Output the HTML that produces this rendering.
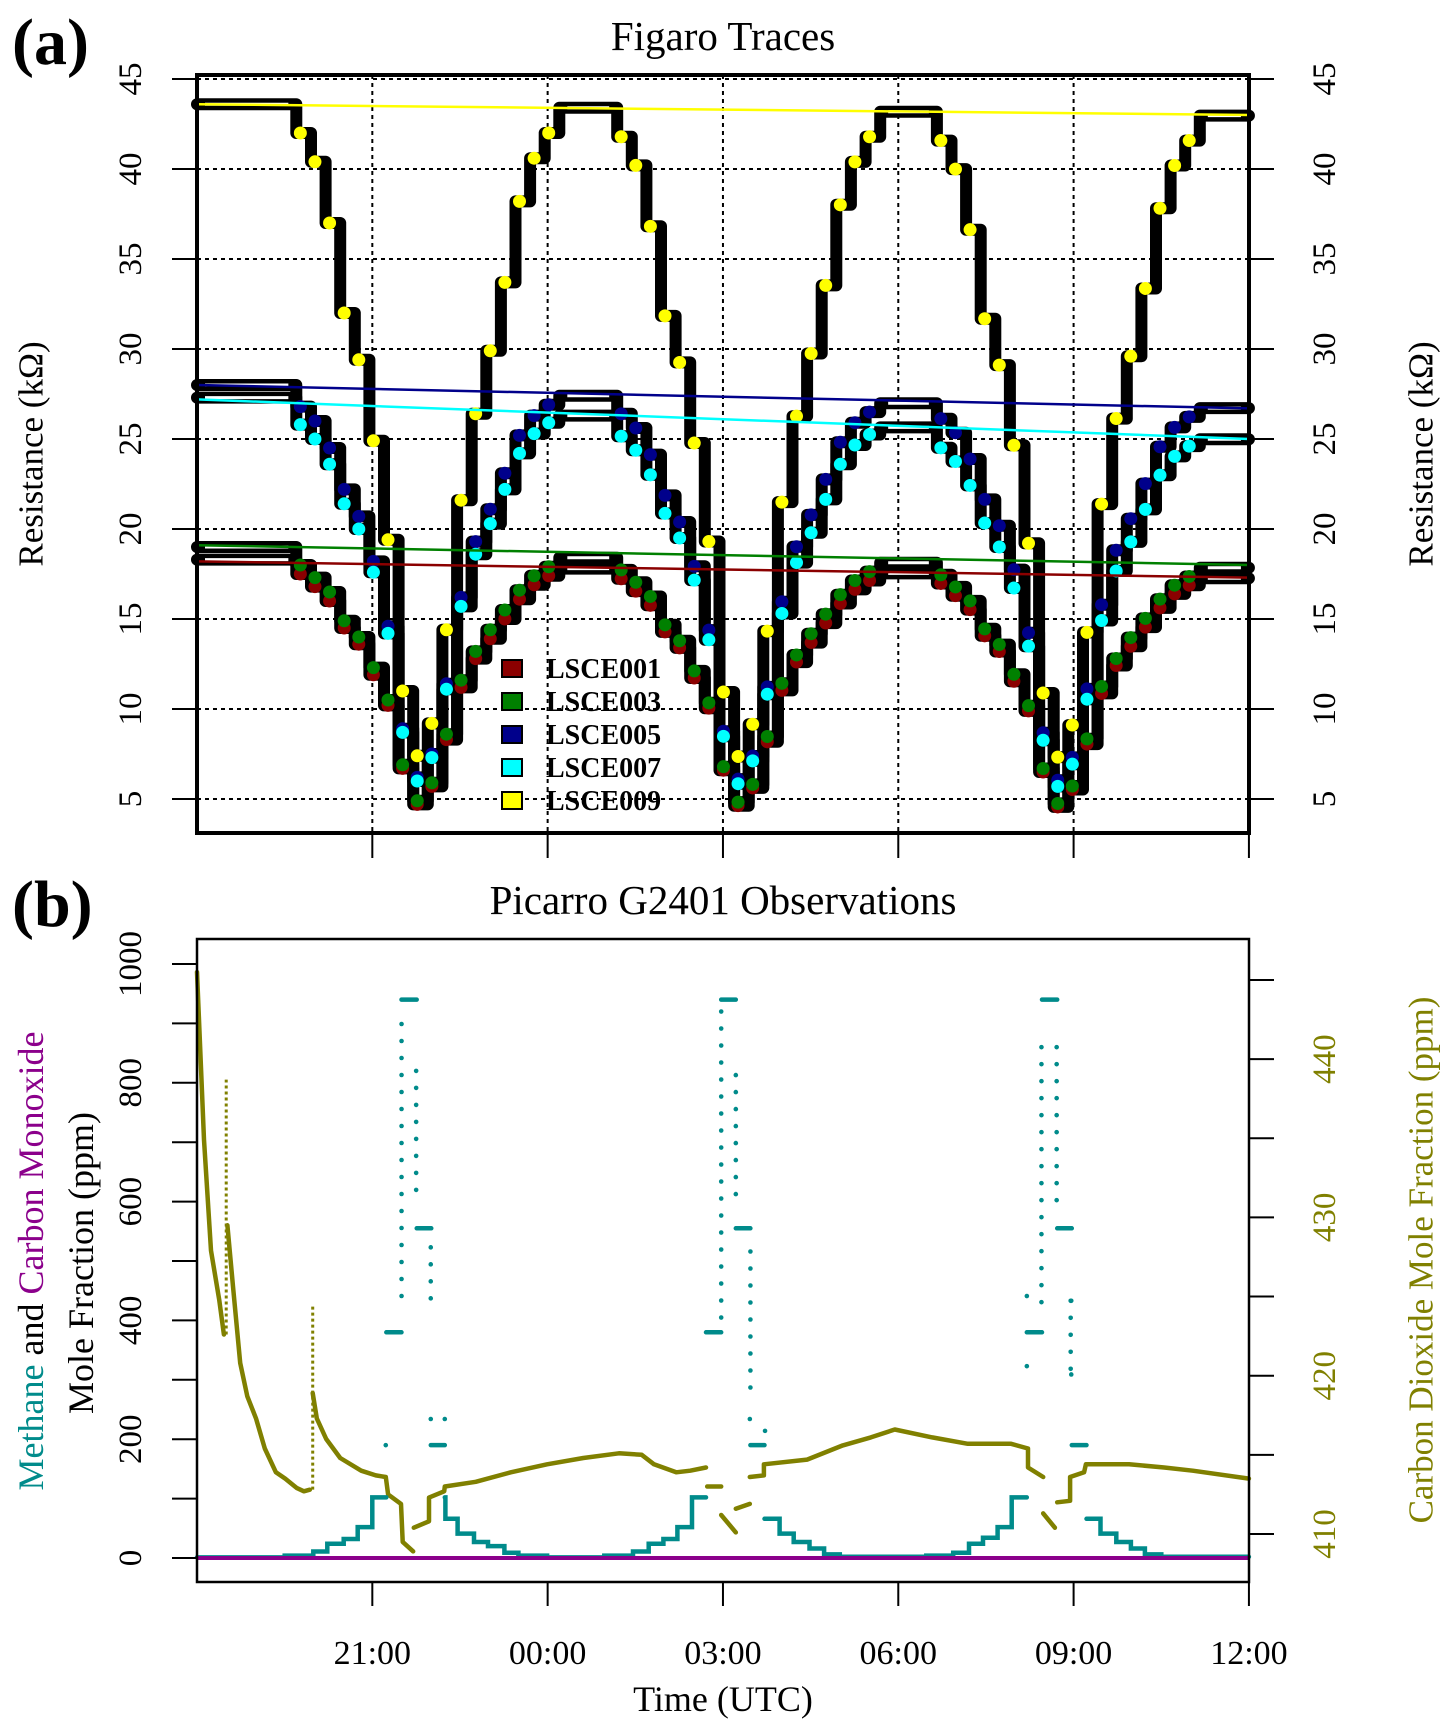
<!DOCTYPE html>
<html><head><meta charset="utf-8"><style>
html,body{margin:0;padding:0;background:#fff;}
svg{display:block;font-family:"Liberation Serif",serif;}
</style></head><body>
<svg id="fig" width="1451" height="1730" viewBox="0 0 1451 1730" xmlns="http://www.w3.org/2000/svg">
<rect width="1451" height="1730" fill="#fff"/>
<g id="panelA"></g>
<g id="panelB"></g>
<text x="12" y="64" font-size="66" font-weight="bold">(a)</text>
<text x="12" y="926" font-size="66" font-weight="bold">(b)</text>
<text x="723" y="50" font-size="41" text-anchor="middle">Figaro Traces</text>
<text x="723" y="914" font-size="41" text-anchor="middle">Picarro G2401 Observations</text>
<text transform="translate(31,454) rotate(-90)" font-size="35" text-anchor="middle" dominant-baseline="central">Resistance (kΩ)</text>
<text transform="translate(1421,454) rotate(-90)" font-size="35" text-anchor="middle" dominant-baseline="central">Resistance (kΩ)</text>
<text transform="translate(31,1261) rotate(-90)" font-size="36" text-anchor="middle" dominant-baseline="central"><tspan fill="#008b8b">Methane</tspan> and <tspan fill="#8b008b">Carbon Monoxide</tspan></text>
<text transform="translate(81,1263) rotate(-90)" font-size="36" text-anchor="middle" dominant-baseline="central">Mole Fraction (ppm)</text>
<text transform="translate(1421,1260) rotate(-90)" font-size="35" text-anchor="middle" dominant-baseline="central" fill="#808000">Carbon Dioxide Mole Fraction (ppm)</text>
<text x="723" y="1711" font-size="36" text-anchor="middle">Time (UTC)</text>
</svg>
<script>
// ---------- Panel A data ----------
const cycleMin = [3.70, 9.19, 14.66];
const sensorNames = ["LSCE001","LSCE003","LSCE005","LSCE007","LSCE009"];
const sensorColors = ["#8b0000","#008000","#00008b","#00ffff","#ffff00"];
const initVal = [18.3, 19.0, 28.0, 27.3, 43.6];
const downLSCE001 = [17.5,16.8,16.0,14.5,13.6,11.9,10.2,6.7,4.7];
const upLSCE001   = [5.7,8.3,11.2,12.8,13.9,15.0,16.1,16.9,17.4];
const downLSCE003 = [18.0,17.3,16.5,14.9,14.0,12.3,10.5,6.9,4.9];
const upLSCE003   = [5.9,8.6,11.6,13.2,14.4,15.5,16.6,17.4,17.9];
const downLSCE005 = [26.8,26.0,24.5,22.2,20.7,18.2,14.6,8.9,6.2];
const upLSCE005   = [7.5,11.4,16.2,19.3,21.1,23.1,25.2,26.3,26.9];
const downLSCE007 = [25.8,25.0,23.6,21.4,20.0,17.6,14.2,8.7,6.0];
const upLSCE007   = [7.3,11.1,15.7,18.6,20.3,22.2,24.2,25.3,25.9];
const downLSCE009 = [42.0,40.4,37.0,32.0,29.4,24.9,19.4,11.0,7.4];
const upLSCE009   = [9.2,14.4,21.6,26.4,29.9,33.7,38.2,40.6,42.0];
const plateauVal = [17.8, 18.4, 27.4, 26.3, 43.4];
const driftLSCE001 = [1.0, 0.985, 0.97];
const driftLSCE003 = [1.0, 0.985, 0.97];
const driftLSCE005 = [1.0, 0.985, 0.975];
const driftLSCE007 = [1.0, 0.975, 0.95];
const driftLSCE009 = [1.0, 0.995, 0.99];
const trendStart = [18.2, 19.1, 28.0, 27.2, 43.6];
const trendEnd   = [17.3, 18.0, 26.7, 25.0, 43.0];
const yTicksA = [5,10,15,20,25,30,35,40,45];
const xTickHours = [3,6,9,12,15,18];
const xTickLabels = ["21:00","00:00","03:00","06:00","09:00","12:00"];

// ---------- Panel B data ----------
const co2T = [0,0.12,0.24,0.38,0.46,null,
  0.52,0.62,0.74,0.86,1.01,1.16,1.35,1.51,1.71,1.83,1.93,null,
  1.98,2.05,2.21,2.45,2.81,3.06,3.23,3.27,3.49,3.52,3.70,null,
  3.71,3.97,3.97,4.23,4.24,4.77,5.37,5.99,6.61,7.22,7.61,7.82,8.20,8.44,8.71,null,
  8.73,8.97,null,8.97,9.22,null,
  9.22,9.46,null,9.46,9.70,9.70,10.44,11.05,11.53,11.94,12.58,13.19,13.93,14.22,14.22,14.48,null,
  14.48,14.68,null,
  14.72,14.94,14.94,15.18,15.21,15.95,16.55,17.04,18.0];
const co2V = [445.5,434.9,427.9,424.8,422.6,null,
  429.5,425.5,420.8,418.7,417.3,415.4,413.9,413.5,412.9,412.7,412.8,null,
  418.9,417.3,416.0,414.8,414.0,413.7,413.6,412.5,411.9,409.5,408.9,null,
  410.4,410.8,412.3,412.7,413.0,413.3,413.9,414.4,414.8,415.1,415.0,414.4,413.9,414.0,414.2,null,
  413.0,413.0,null,411.2,410.1,null,
  411.6,411.9,null,413.6,413.7,414.4,414.7,415.6,416.1,416.6,416.1,415.7,415.7,415.4,414.2,413.6,null,
  411.3,410.4,null,
  412.0,412.1,413.6,413.9,414.4,414.4,414.2,414.0,413.5];
const co2SpikeT = [0.50, 1.98];
const co2SpikeLo = [422.6, 412.8];
const co2SpikeHi = [438.7, 424.5];

const ch4T = [0,1.50,1.99,2.23,2.51,2.75,3.00,3.24,null,
  3.24,3.50,null,3.50,3.76,null,3.76,4.01,null,4.00,4.24,null,
  4.24,4.25,4.46,4.74,4.98,5.26,5.50,5.99,6.97,7.46,7.73,7.98,8.22,8.47,8.71,null,
  8.71,8.97,null,8.97,9.22,null,9.22,9.47,null,9.47,9.71,null,
  9.71,9.97,10.21,10.48,10.73,11.0,12.48,12.94,13.21,13.45,13.70,13.94,14.20,null,
  14.20,14.46,null,14.46,14.72,null,14.72,14.97,null,14.97,15.22,null,
  15.22,15.46,15.73,15.98,16.22,16.50,18.0];
const ch4V = [1,4,11,24,32,52,102,102,null,
  380,380,null,940,940,null,555,555,null,190,190,null,
  102,66,41,27,20,9,4,1,4,11,24,32,52,102,102,null,
  380,380,null,940,940,null,555,555,null,190,190,null,
  66,41,27,16,6,2,4,9,24,34,52,102,102,null,
  380,380,null,940,940,null,555,555,null,190,190,null,
  66,41,27,16,6,2,2];
const ch4ColT  = [3.50, 3.75, 4.00, 8.97, 9.22, 9.47, 14.45, 14.71, 14.95];
const ch4ColLo = [413, 600, 409, 400, 609, 266, 420, 600, 308];
const ch4ColHi = [899, 820, 523, 920, 813, 516, 860, 860, 433];
const ch4DotT = [3.23, 4.00, 4.24, 9.72, 9.46, 14.20, 14.20, 14.96, 14.96];
const ch4DotV = [190, 234, 234, 214, 234, 441, 323, 309, 433];
const coT = [0, 18];
const coV = [0, 0];
const yTicksLeftB = [0,100,200,300,400,500,600,700,800,900,1000];
const yLabelsLeftB = [0,200,400,600,800,1000];
const yTicksRightB = [410,415,420,425,430,435,440,445];
const yLabelsRightB = [410,420,430,440];

// ---------- helpers ----------
const NS = "http://www.w3.org/2000/svg";
function mk(tag, attrs, parent){ const e=document.createElementNS(NS,tag); for(const k in attrs) e.setAttribute(k,attrs[k]); parent.appendChild(e); return e; }
const A = document.getElementById('panelA');
const B = document.getElementById('panelB');
const xA = t => 197 + t*58.44;
const yA = v => 79 + (45 - v)*18;
const yL = v => 1558 - v*0.594;
const yR = p => 1534 - (p - 410)*15.83;

// ---------- Panel A ----------
yTicksA.forEach(v=>{
  const g = mk('line',{x1:197,x2:1249,y1:yA(v),y2:yA(v),stroke:'#000','stroke-width':2,'stroke-dasharray':'4,4'},A);
  
  
});
xTickHours.slice(0,5).forEach(h=>{
  const g = mk('line',{x1:xA(h),x2:xA(h),y1:75,y2:833,stroke:'#000','stroke-width':2,'stroke-dasharray':'4,4'},A);
  
  
});
const downs=[downLSCE001,downLSCE003,downLSCE005,downLSCE007,downLSCE009];
const ups=[upLSCE001,upLSCE003,upLSCE005,upLSCE007,upLSCE009];
const drifts=[driftLSCE001,driftLSCE003,driftLSCE005,driftLSCE007,driftLSCE009];
const sensorPts = [];
for(let s=0;s<5;s++){
  const pts=[[0,initVal[s],false]];
  for(let c=0;c<3;c++){
    const m=cycleMin[c], k=drifts[s][c];
    for(let i=0;i<9;i++) pts.push([m-2+0.25*i, downs[s][i]*k, true]);
    for(let i=0;i<9;i++) pts.push([m+0.25*(i+1), ups[s][i]*k, true]);
    pts.push([m+2.5, plateauVal[s]*k, false]);
  }
  sensorPts.push(pts);
}
for(let s=0;s<5;s++){
  const pts=sensorPts[s];
  let d='M'+xA(pts[0][0])+' '+yA(pts[0][1]);
  for(let i=1;i<pts.length;i++) d+=' H'+xA(pts[i][0]).toFixed(1)+' V'+yA(pts[i][1]).toFixed(1);
  d+=' H'+xA(18);
  const p=mk('path',{d:d,fill:'none',stroke:'#000','stroke-width':12,'stroke-linejoin':'round','stroke-linecap':'round'},A);
  
  
  // plateau interiors (white core of the noisy plateau traces)
  pts.forEach((pt,i)=>{
    if(pt[2]) return;
    const tEnd = (i+1<pts.length)? pts[i+1][0] : 18;
    const w=mk('line',{x1:xA(pt[0])+8,x2:xA(tEnd)-8,y1:yA(pt[1]),y2:yA(pt[1]),stroke:'#fff','stroke-width':3},A);
    
    
  });
}
for(let s=0;s<5;s++){
  const g=mk('g',{},A);
  
  
  sensorPts[s].forEach(p=>{
    if(!p[2]) return;
    const c=mk('circle',{cx:xA(p[0])+4,cy:yA(p[1]),r:6.5,fill:sensorColors[s]},g);
    
    
  });
}
for(let s=0;s<5;s++){
  const l=mk('line',{x1:197,x2:1249,y1:yA(trendStart[s]),y2:yA(trendEnd[s]),stroke:sensorColors[s],'stroke-width':2.5},A);
  
  
}
const boxA=mk('rect',{x:197,y:75,width:1052,height:758,fill:'none',stroke:'#000','stroke-width':4},A);


yTicksA.forEach(v=>{
  const t1=mk('line',{x1:172,x2:197,y1:yA(v),y2:yA(v),stroke:'#000','stroke-width':2},A);
  
  
  const t2=mk('line',{x1:1249,x2:1274,y1:yA(v),y2:yA(v),stroke:'#000','stroke-width':2},A);
  
  
  [131,1325].forEach((x,i)=>{
    const tx=mk('text',{transform:'translate('+x+','+yA(v)+') rotate(-90)','font-size':33,'text-anchor':'middle','dominant-baseline':'central'},A);
    tx.textContent=v;
    
    
  });
});
xTickHours.forEach(h=>{
  const t=mk('line',{x1:xA(h),x2:xA(h),y1:833,y2:858,stroke:'#000','stroke-width':2},A);
  
  
});
const leg=mk('g',{},A);


sensorNames.forEach((n,i)=>{
  const y=668+i*33;
  const r=mk('rect',{x:502,y:y-8,width:20,height:17,fill:sensorColors[i],stroke:'#000','stroke-width':2},leg);
  
  
  const t=mk('text',{x:546,y:y+10,'font-size':28,'font-weight':'bold'},leg);
  t.textContent=n;
  
  
});

// ---------- Panel B ----------
const xB = xA;
function brokenPath(ts, vs, yfun, step){
  let d='', pen=false;
  for(let i=0;i<ts.length;i++){
    if(ts[i]===null){pen=false;continue;}
    const x=xB(ts[i]).toFixed(1), y=yfun(vs[i]).toFixed(1);
    if(!pen){d+=' M'+x+' '+y;pen=true;}
    else if(step){d+=' H'+x+' V'+y;}
    else d+=' L'+x+' '+y;
  }
  return d;
}
const co2=mk('path',{d:brokenPath(co2T,co2V,yR,false),fill:'none',stroke:'#808000','stroke-width':4.5,'stroke-linejoin':'round','stroke-linecap':'round'},B);


co2SpikeT.forEach((t,i)=>{
  const l=mk('line',{x1:xB(t),x2:xB(t),y1:yR(co2SpikeLo[i]),y2:yR(co2SpikeHi[i]),stroke:'#808000','stroke-width':3,'stroke-dasharray':'3,3'},B);
  
  
});
const ch4=mk('path',{d:brokenPath(ch4T,ch4V,yL,true),fill:'none',stroke:'#008b8b','stroke-width':4.5,'stroke-linecap':'round'},B);


const colG=mk('g',{fill:'#008b8b'},B);


ch4ColT.forEach((t,i)=>{
  const y0=yL(ch4ColHi[i]), y1=yL(ch4ColLo[i]);
  for(let y=y0;y<=y1;y+=17){
    const c=mk('circle',{cx:xB(t),cy:y,r:2.3},colG);
    
    
  }
});
ch4DotT.forEach((t,i)=>{
  const c=mk('circle',{cx:xB(t),cy:yL(ch4DotV[i]),r:2.3},colG);
  
  
});
const co=mk('path',{d:brokenPath(coT,coV,yL,false),fill:'none',stroke:'#8b008b','stroke-width':4},B);


const boxB=mk('rect',{x:197,y:939,width:1052,height:643,fill:'none',stroke:'#000','stroke-width':2.5},B);


yTicksLeftB.forEach(v=>{
  const t=mk('line',{x1:172,x2:197,y1:yL(v),y2:yL(v),stroke:'#000','stroke-width':2},B);
  
  
});
yLabelsLeftB.forEach(v=>{
  const tx=mk('text',{transform:'translate(131,'+yL(v)+') rotate(-90)','font-size':33,'text-anchor':'middle','dominant-baseline':'central'},B);
  tx.textContent=v;
  
  
});
yTicksRightB.forEach(v=>{
  const t=mk('line',{x1:1249,x2:1274,y1:yR(v),y2:yR(v),stroke:'#000','stroke-width':2},B);
  
  
});
yLabelsRightB.forEach(v=>{
  const tx=mk('text',{transform:'translate(1325,'+yR(v)+') rotate(-90)','font-size':33,'text-anchor':'middle','dominant-baseline':'central',fill:'#808000'},B);
  tx.textContent=v;
  
  
});
xTickHours.forEach((h,i)=>{
  const t=mk('line',{x1:xB(h),x2:xB(h),y1:1582,y2:1606,stroke:'#000','stroke-width':2},B);
  
  
  const tx=mk('text',{x:xB(h),y:1664,'font-size':34,'text-anchor':'middle'},B);
  tx.textContent=xTickLabels[i];
  
  
});
</script>
</body></html>
